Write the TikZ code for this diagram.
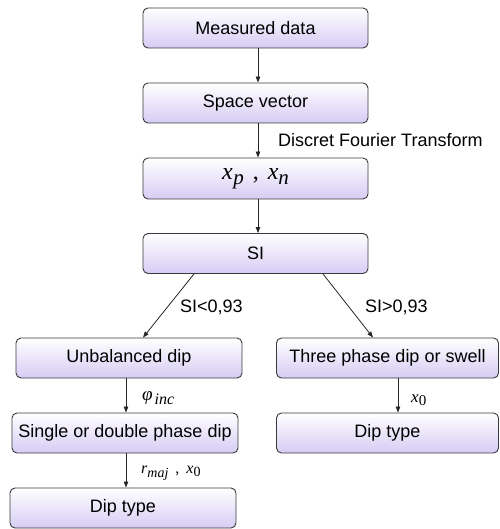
\documentclass[tikz,border=0pt]{standalone}
\usepackage{fontspec}
\setmainfont{Liberation Sans}
\newfontfamily\tms{Liberation Serif}
\usetikzlibrary{arrows.meta}
\definecolor{boxline}{HTML}{3A3A3A}
\definecolor{lav}{HTML}{D6CCF4}
\tikzset{
  box/.style={draw=boxline, line width=0.9pt, rounded corners=5pt, top color=white, bottom color=lav,
    minimum height=40pt, inner sep=0pt, font=\fontsize{18}{20}\selectfont, text=black},
  topbox/.style={box, minimum width=225pt},
  sidebox/.style={box, minimum width=225pt},
  conn/.style={draw=black!85, line width=0.8pt, -{Triangle[length=6pt,width=4.5pt]}},
  lbl/.style={anchor=west, inner sep=0pt, font=\fontsize{18}{20}\selectfont},
  mlbl/.style={anchor=west, inner sep=0pt}
}
\begin{document}
\begin{tikzpicture}[x=1pt,y=-1pt]
\useasboundingbox (0,0) rectangle (499,529);
\node[topbox] (md) at (255.5,28) {Measured data};
\node[topbox] (sv) at (255.5,103) {Space vector};
\node[topbox, minimum height=41pt] (xp) at (255.5,178.5) {\tms\fontsize{24}{26}\selectfont\itshape x\kern0.5pt\raisebox{-5pt}{\fontsize{21}{22}\selectfont p}\hspace{9pt}{\upshape,}\hspace{9pt}x\raisebox{-5pt}{\fontsize{21}{22}\selectfont n}};
\node[topbox] (si) at (255.5,253.5) {SI};
\node[sidebox, minimum width=226pt] (ub) at (129,358) {Unbalanced dip};
\node[sidebox, minimum width=226pt] (sd) at (125,433) {Single or double phase dip};
\node[sidebox, minimum width=226pt] (dl) at (123,508) {Dip type};
\node[sidebox, minimum width=222pt] (tp) at (387.5,358) {Three phase dip or swell};
\node[sidebox, minimum width=222pt] (dr) at (387.5,433) {Dip type};

\draw[conn] ([xshift=2.5pt]md.south) -- ([xshift=2.5pt]sv.north);
\draw[conn] ([xshift=2.5pt]sv.south) -- ([xshift=2.5pt]xp.north);
\draw[conn] ([xshift=2.5pt]xp.south) -- ([xshift=2.5pt]si.north);
\draw[conn] ([xshift=-61.5pt]si.south) -- ([xshift=14pt]ub.north);
\draw[conn] ([xshift=67.5pt]si.south) -- ([xshift=-14.5pt]tp.north);
\draw[conn] ([xshift=-3pt]ub.south) -- ([xshift=1pt]sd.north);
\draw[conn] ([xshift=1pt]sd.south) -- ([xshift=3pt]dl.north);
\draw[conn] ([xshift=10.5pt]tp.south) -- ([xshift=10.5pt]dr.north);

\node[lbl] (dft) at (278,140) {Discret Fourier Transform};
\node[lbl] (lt) at (180,307) {SI<0,93};
\node[lbl] (gt) at (365,307) {SI>0,93};
\node[mlbl] (phi) at (142,398) {\tms\itshape\fontsize{19}{20}\selectfont φ\kern2pt\raisebox{-4pt}{\fontsize{16}{18}\selectfont inc}};
\node[mlbl] (x0r) at (411,400) {\tms\itshape\fontsize{17}{18}\selectfont x\raisebox{-3pt}{\upshape\fontsize{15}{16}\selectfont 0}};
\node[mlbl] (rmaj) at (141,473) {\tms\itshape\fontsize{16}{18}\selectfont r\raisebox{-3.5pt}{\fontsize{14}{16}\selectfont maj}\hspace{7pt}{\upshape ,}\hspace{7pt}x\raisebox{-3pt}{\upshape\fontsize{14}{16}\selectfont 0}};
\end{tikzpicture}
\end{document}
